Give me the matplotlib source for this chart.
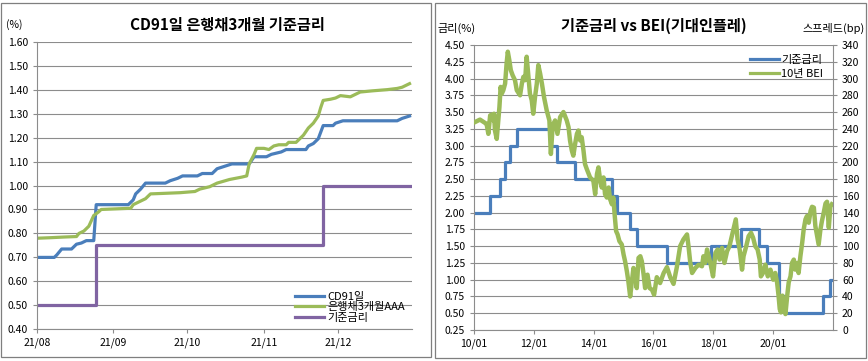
import numpy as np
import pandas as pd
import matplotlib
matplotlib.use('Agg')
import matplotlib.pyplot as plt
import matplotlib.dates as mdates
from matplotlib.patches import Rectangle
from matplotlib.lines import Line2D

plt.rcParams['font.family'] = ['Noto Sans CJK KR', 'DejaVu Sans']

## left chart: 2021 daily rates (%)
cd91_dates = ['2021-08-01', '2021-08-08', '2021-08-09', '2021-08-11', '2021-08-15', '2021-08-17',
              '2021-08-19', '2021-08-21', '2021-08-24', '2021-08-25', '2021-09-07', '2021-09-09',
              '2021-09-10', '2021-09-12', '2021-09-14', '2021-09-22', '2021-09-24', '2021-09-27',
              '2021-09-29', '2021-10-05', '2021-10-07', '2021-10-11', '2021-10-13', '2021-10-16',
              '2021-10-19', '2021-10-26', '2021-10-28', '2021-11-02', '2021-11-04', '2021-11-08',
              '2021-11-10', '2021-11-18', '2021-11-19', '2021-11-21', '2021-11-23', '2021-11-25',
              '2021-11-29', '2021-11-30', '2021-12-03', '2021-12-25', '2021-12-27', '2021-12-30']
cd91 = [0.70, 0.70, 0.71, 0.735, 0.735, 0.755, 0.76, 0.77, 0.77, 0.92, 0.92, 0.94,
        0.965, 0.985, 1.01, 1.01, 1.02, 1.03, 1.04, 1.04, 1.05, 1.05, 1.07, 1.08,
        1.09, 1.09, 1.12, 1.12, 1.13, 1.14, 1.15, 1.15, 1.165, 1.175, 1.195, 1.25,
        1.25, 1.26, 1.27, 1.27, 1.28, 1.29]

bank_dates = ['2021-08-01', '2021-08-06', '2021-08-12', '2021-08-17', '2021-08-18', '2021-08-20',
              '2021-08-22', '2021-08-24', '2021-08-26', '2021-08-27', '2021-09-08', '2021-09-09',
              '2021-09-12', '2021-09-14', '2021-09-16', '2021-09-21', '2021-09-28', '2021-10-04',
              '2021-10-06', '2021-10-10', '2021-10-13', '2021-10-18', '2021-10-23', '2021-10-25',
              '2021-10-26', '2021-10-28', '2021-10-29', '2021-11-01', '2021-11-03', '2021-11-05',
              '2021-11-07', '2021-11-10', '2021-11-11', '2021-11-14', '2021-11-15', '2021-11-17',
              '2021-11-19', '2021-11-21', '2021-11-23', '2021-11-24', '2021-11-25', '2021-11-28',
              '2021-11-30', '2021-12-02', '2021-12-06', '2021-12-08', '2021-12-10', '2021-12-15',
              '2021-12-21', '2021-12-25', '2021-12-27', '2021-12-29', '2021-12-30']
bank3m = [0.780, 0.782, 0.785, 0.787, 0.800, 0.810, 0.830, 0.875, 0.890, 0.900, 0.905, 0.920,
          0.935, 0.945, 0.965, 0.967, 0.970, 0.975, 0.985, 0.995, 1.010, 1.025, 1.035, 1.040,
          1.090, 1.130, 1.155, 1.155, 1.150, 1.165, 1.170, 1.170, 1.180, 1.180, 1.190, 1.210,
          1.240, 1.260, 1.290, 1.325, 1.355, 1.360, 1.365, 1.375, 1.370, 1.380, 1.390, 1.395,
          1.400, 1.405, 1.410, 1.420, 1.425]

base21_dates = ['2021-08-01', '2021-08-25', '2021-11-25', '2021-12-30']
base21 = [0.50, 0.75, 1.00, 1.00]

left_labels = ['CD91일', '은행채3개월AAA', '기준금리']

## right chart: base rate (%) and 10y BEI (bp), x in years
base_years = [2010.00, 2010.53, 2010.87, 2011.04, 2011.19, 2011.45, 2012.53, 2012.78, 2013.36,
              2014.62, 2014.79, 2015.20, 2015.45, 2016.45, 2017.91, 2018.91, 2019.54, 2019.79,
              2020.21, 2020.41, 2021.65, 2021.90, 2021.99]
base_rate = [2.00, 2.25, 2.50, 2.75, 3.00, 3.25, 3.00, 2.75, 2.50,
             2.25, 2.00, 1.75, 1.50, 1.25, 1.50, 1.75, 1.50, 1.25,
             0.75, 0.50, 0.75, 1.00, 1.00]

bei_years = [2010.03, 2010.20, 2010.37, 2010.42, 2010.48, 2010.54, 2010.59, 2010.65, 2010.67, 2010.70,
             2010.76, 2010.81, 2010.85, 2010.89, 2010.93, 2010.98, 2011.04, 2011.09, 2011.13, 2011.18,
             2011.23, 2011.29, 2011.37, 2011.43, 2011.54, 2011.60, 2011.65, 2011.71, 2011.76, 2011.82,
             2011.87, 2011.93, 2011.98, 2012.04, 2012.10, 2012.15, 2012.21, 2012.27, 2012.34, 2012.43,
             2012.52, 2012.57, 2012.63, 2012.71, 2012.79, 2012.88, 2012.99, 2013.10, 2013.16, 2013.21,
             2013.27, 2013.32, 2013.38, 2013.44, 2013.49, 2013.55, 2013.60, 2013.66, 2013.71, 2013.77,
             2013.88, 2013.99, 2014.05, 2014.11, 2014.16, 2014.22, 2014.27, 2014.33, 2014.38, 2014.44,
             2014.50, 2014.55, 2014.61, 2014.66, 2014.70, 2014.75, 2014.80, 2014.86, 2014.94, 2015.00,
             2015.05, 2015.11, 2015.16, 2015.22, 2015.28, 2015.33, 2015.39, 2015.44, 2015.50, 2015.56,
             2015.61, 2015.67, 2015.72, 2015.80, 2015.87, 2015.95, 2016.02, 2016.11, 2016.22, 2016.34,
             2016.45, 2016.56, 2016.67, 2016.78, 2016.89, 2017.00, 2017.12, 2017.17, 2017.23, 2017.29,
             2017.40, 2017.51, 2017.62, 2017.67, 2017.73, 2017.79, 2017.90, 2017.99, 2018.07, 2018.14,
             2018.21, 2018.29, 2018.37, 2018.46, 2018.54, 2018.62, 2018.70, 2018.75, 2018.81, 2018.88,
             2018.96, 2019.01, 2019.10, 2019.18, 2019.26, 2019.33, 2019.40, 2019.48, 2019.55, 2019.59,
             2019.66, 2019.74, 2019.82, 2019.91, 2020.00, 2020.07, 2020.13, 2020.18, 2020.22, 2020.26,
             2020.31, 2020.35, 2020.41, 2020.47, 2020.52, 2020.58, 2020.63, 2020.69, 2020.74, 2020.80,
             2020.85, 2020.91, 2020.97, 2021.02, 2021.08, 2021.13, 2021.19, 2021.25, 2021.30, 2021.36,
             2021.41, 2021.47, 2021.52, 2021.58, 2021.63, 2021.69, 2021.75, 2021.80, 2021.86, 2021.91,
             2021.96]
bei_bp = [248, 251, 247, 246, 234, 256, 257, 250, 258, 238,
          228, 250, 266, 290, 282, 286, 294, 318, 332, 322,
          310, 304, 298, 286, 280, 294, 302, 298, 326, 302,
          282, 274, 258, 278, 294, 316, 306, 294, 278, 262,
          250, 210, 244, 250, 234, 254, 260, 250, 242, 226,
          214, 208, 222, 234, 238, 226, 230, 214, 198, 192,
          182, 178, 162, 186, 194, 178, 170, 182, 162, 158,
          170, 156, 150, 158, 138, 118, 114, 106, 102, 90,
          82, 70, 58, 40, 58, 74, 66, 50, 86, 88,
          82, 66, 50, 66, 50, 48, 42, 63, 56, 68,
          75, 63, 55, 75, 100, 108, 114, 100, 80, 68,
          74, 78, 76, 88, 80, 96, 80, 64, 92, 96,
          84, 98, 80, 94, 100, 112, 124, 132, 108, 96,
          72, 88, 100, 112, 116, 110, 100, 96, 84, 64,
          68, 78, 64, 72, 60, 68, 57, 41, 25, 21,
          41, 29, 19, 41, 57, 64, 80, 84, 72, 80,
          68, 88, 104, 120, 132, 136, 128, 142, 147, 146,
          124, 112, 102, 120, 130, 140, 151, 153, 122, 147,
          150]

right_labels = ['기준금리', '10년 BEI']
year_ticks = [2010, 2012, 2014, 2016, 2018, 2020]
year_ticklabels = ['10/01', '12/01', '14/01', '16/01', '18/01', '20/01']

BLUE = '#4a7ebb'
GREEN = '#9bbb59'
PURPLE = '#8064a2'
GRID = '#8c8c8c'
W, H = 868, 361


def px_box(x0, y0, x1, y1):
    # pixel box (top-left origin) -> figure fraction [left, bottom, width, height]
    return [x0 / W, 1 - y1 / H, (x1 - x0) / W, (y1 - y0) / H]


def style_axis(ax):
    ax.set_axisbelow(True)
    ax.yaxis.grid(True, color=GRID, lw=0.8)
    for s in ['top', 'right']:
        ax.spines[s].set_visible(False)
    for s in ['left', 'bottom']:
        ax.spines[s].set_color(GRID)
        ax.spines[s].set_linewidth(0.8)
    ax.tick_params(axis='both', colors=GRID, labelcolor='black', labelsize=7.5, length=3, width=0.8)
    ax.tick_params(axis='x', pad=3)


fig = plt.figure(figsize=(W / 100, H / 100), dpi=100)

# chart frames
for box in [(1, 3, 431, 357), (435, 3, 866, 358)]:
    fig.patches.append(Rectangle((box[0] / W, 1 - box[3] / H), (box[2] - box[0]) / W,
                                 (box[3] - box[1]) / H, transform=fig.transFigure,
                                 fill=False, edgecolor='#7f7f7f', lw=0.9))

## left chart
ax = fig.add_axes(px_box(37, 41.7, 412, 329.3))
style_axis(ax)
ax.plot(pd.to_datetime(cd91_dates), cd91, color=BLUE, lw=2.3, label=left_labels[0])
ax.plot(pd.to_datetime(bank_dates), bank3m, color=GREEN, lw=2.3, label=left_labels[1])
ax.plot(pd.to_datetime(base21_dates), base21, color=PURPLE, lw=2.3, drawstyle='steps-post',
        label=left_labels[2])
ax.set_ylim(0.40, 1.60)
ax.set_yticks(np.arange(0.40, 1.601, 0.10))
ax.yaxis.set_major_formatter(plt.FormatStrFormatter('%.2f'))
ax.set_xlim(pd.Timestamp('2021-08-01'), pd.Timestamp('2021-12-31'))
ax.xaxis.set_major_locator(mdates.MonthLocator())
ax.xaxis.set_major_formatter(mdates.DateFormatter('%y/%m'))
ax.legend(loc='lower left', bbox_to_anchor=(0.67, 0.0), frameon=False, fontsize=8,
          handlelength=2.6, handletextpad=0.3, labelspacing=0.05, borderaxespad=0.2)

fig.text(14 / W, 1 - 25 / H, '(%)', fontsize=7.5, ha='center', va='center')
fig.text(227 / W, 1 - 25 / H, 'CD91일 은행채3개월 기준금리', fontsize=11, fontweight='bold',
         ha='center', va='center')

## right chart
axr = fig.add_axes(px_box(474, 45, 833, 330))
style_axis(axr)
axr.plot(base_years, base_rate, color=BLUE, lw=2.3, drawstyle='steps-post', label=right_labels[0])
axr.set_ylim(0.25, 4.50)
axr.set_yticks(np.arange(0.25, 4.501, 0.25))
axr.yaxis.set_major_formatter(plt.FormatStrFormatter('%.2f'))
axr.set_xlim(2010.0, 2022.0)
axr.set_xticks(year_ticks)
axr.set_xticklabels(year_ticklabels)

ax2 = axr.twinx()
ax2.plot(bei_years, bei_bp, color=GREEN, lw=3.2, label=right_labels[1])
ax2.set_ylim(0, 340)
ax2.set_yticks(np.arange(0, 341, 20))
for s in ['top', 'left', 'bottom']:
    ax2.spines[s].set_visible(False)
ax2.spines['right'].set_color(GRID)
ax2.spines['right'].set_linewidth(0.8)
ax2.tick_params(axis='y', colors=GRID, labelcolor='black', labelsize=7.5, length=3, width=0.8)

handles = [Line2D([], [], color=BLUE, lw=2.3), Line2D([], [], color=GREEN, lw=2.3)]
ax2.legend(handles, right_labels, loc='upper left', bbox_to_anchor=(0.75, 0.99), frameon=False,
           fontsize=8, handlelength=2.6, handletextpad=0.2, labelspacing=0.4, borderaxespad=0.2)

fig.text(457 / W, 1 - 28 / H, '금리(%)', fontsize=8, ha='center', va='center')
fig.text(654 / W, 1 - 26 / H, '기준금리 vs BEI(기대인플레)', fontsize=11, fontweight='bold',
         ha='center', va='center')
fig.text(834 / W, 1 - 28 / H, '스프레드(bp)', fontsize=8, ha='center', va='center')

fig.savefig('out.png', dpi=100)
